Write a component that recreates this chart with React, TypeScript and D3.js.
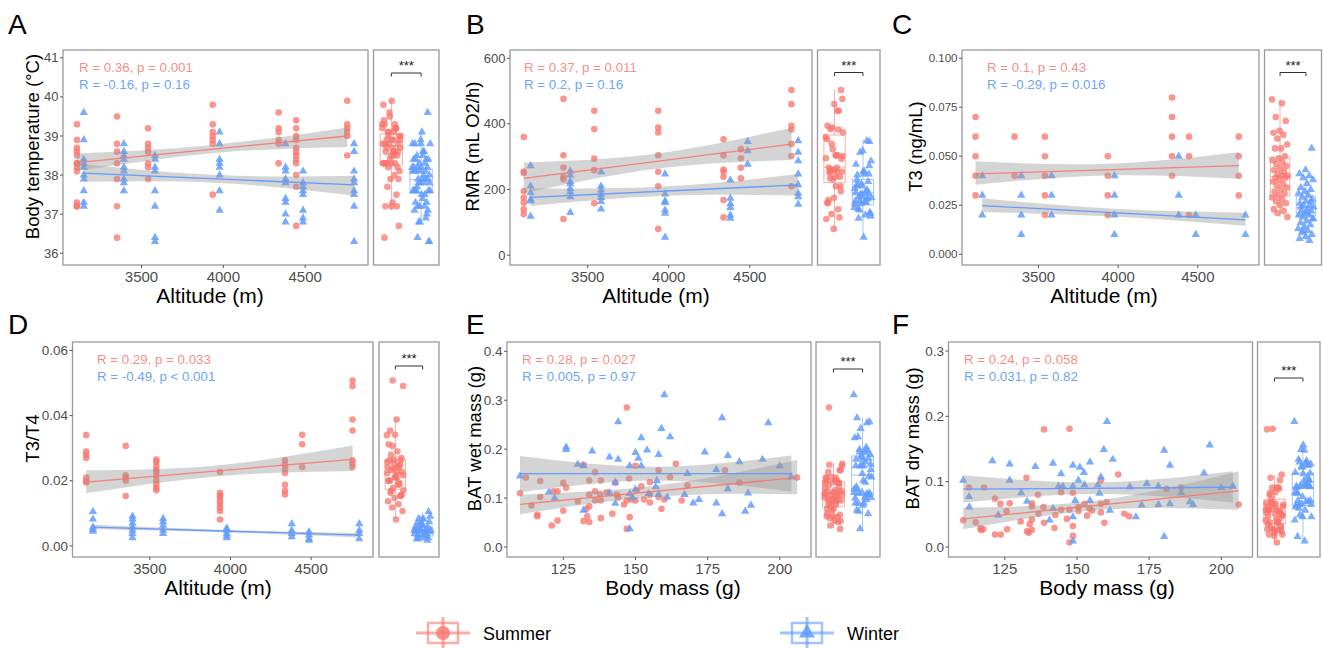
import React from 'react'
import * as d3 from 'd3'

const SUMMER = '#F8766D'
const WINTER = '#619CFF'
const FONT = '"Liberation Sans", Arial, Helvetica, sans-serif'

// sampling sites (m); winter points are dodged a little to the right
const altSummer = [3105, 3350, 3540, 3935, 4338, 4445, 4757]
const altWinter = [3147, 3392, 3582, 3977, 4380, 4487, 4799]

// A: body temperature (°C) per site
const tempSummer = [
  [39.3, 38.9, 38.7, 38.6, 38.5, 38.3, 38.3, 38.2, 38.1, 37.3, 37.2, 37.2],
  [39.5, 38.8, 38.6, 38.3, 37.9, 37.2, 36.4],
  [39.2, 38.8, 38.7, 38.6, 38.3, 38.2, 37.9],
  [39.8, 39.3, 39.1, 39.0, 38.9, 38.8, 37.5],
  [39.6, 39.2, 39.1, 38.9, 38.8, 38.3],
  [39.4, 39.2, 39.0, 38.9, 38.7, 38.6, 38.5, 38.4, 38.3, 38.0, 37.7, 36.7],
  [39.9, 39.3, 39.2, 39.1, 39.0, 38.5],
]
const tempWinter = [
  [39.6, 38.9, 38.4, 38.3, 38.2, 38.0, 37.9, 37.6, 37.3, 37.2],
  [38.8, 38.6, 38.5, 38.4, 38.2, 38.1, 37.9, 37.8, 37.6],
  [38.5, 38.4, 38.2, 38.1, 37.6, 37.2, 36.4, 36.3],
  [39.1, 38.8, 38.4, 38.3, 38.2, 38.0, 37.6, 37.1],
  [38.8, 38.2, 38.1, 37.9, 37.8, 37.4, 37.3, 37.0, 36.8],
  [38.1, 37.8, 37.7, 37.6, 37.5, 37.1, 36.9, 36.8],
  [38.8, 38.6, 38.1, 37.9, 37.8, 37.6, 37.5, 37.2, 36.3],
]
const tempFitSummer = [38.32, 39.0]
const tempBandSummer = [[38.1, 38.56, 38.72], [38.55, 38.77, 39.22]]
const tempFitWinter = [38.05, 37.75]
const tempBandWinter = [[37.83, 37.8, 37.48], [38.28, 38.0, 37.98]]
const tempBoxSummer = [37.1, 38.26, 38.75, 39.05, 39.9]
const tempBoxWinter = [36.8, 37.55, 37.88, 38.15, 39.1]

// B: RMR (mL O2/h)
const rmrSummer = [
  [360, 255, 250, 195, 175, 160, 140, 125],
  [476, 304, 267, 239, 231, 110],
  [440, 384, 294, 259, 158],
  [440, 389, 374, 304, 254, 210, 80],
  [353, 304, 261, 254, 239, 168, 115],
  [323, 295, 266, 234],
  [503, 460, 394, 383, 339, 302, 210],
]
const rmrWinter = [
  [272, 210, 190, 170, 165, 118],
  [256, 244, 224, 217, 203, 193, 178, 130],
  [254, 210, 198, 185, 175, 163, 140],
  [247, 186, 165, 160, 137, 127, 54],
  [229, 173, 156, 145, 122, 112],
  [346, 318, 277],
  [348, 313, 287, 247, 214, 188, 178, 155],
]
const rmrFitSummer = [234, 338]
const rmrBandSummer = [[188, 264, 290], [282, 310, 388]]
const rmrFitWinter = [176, 214]
const rmrBandWinter = [[150, 181, 181], [204, 209, 247]]
const rmrBoxSummer = [79, 221, 268, 366, 503]
const rmrBoxWinter = [52, 153, 190, 231, 353]

// C: T3 (ng/mL)
const t3Summer = [
  [0.07, 0.06, 0.05, 0.04, 0.03],
  [0.06, 0.04],
  [0.06, 0.05, 0.04, 0.03, 0.02],
  [0.05, 0.04, 0.03, 0.02],
  [0.08, 0.07, 0.06, 0.05, 0.04],
  [0.06, 0.05, 0.02],
  [0.06, 0.05, 0.04, 0.03],
]
const t3Winter = [
  [0.04, 0.03, 0.02],
  [0.04, 0.03, 0.02, 0.01],
  [0.04, 0.03, 0.02],
  [0.04, 0.03, 0.02, 0.01],
  [0.05, 0.03, 0.02],
  [0.02, 0.01],
  [0.02, 0.01],
]
const t3FitSummer = [0.041, 0.0452]
const t3BandSummer = [[0.0355, 0.0402, 0.0385], [0.0475, 0.0462, 0.052]]
const t3FitWinter = [0.0248, 0.0175]
const t3BandWinter = [[0.0215, 0.0192, 0.0145], [0.0285, 0.0232, 0.0212]]
const t3BoxSummer = [0.019, 0.0297, 0.0396, 0.0495, 0.079]
const t3BoxWinter = [0.007, 0.0196, 0.0238, 0.0297, 0.040]
const t3PointsSummer = [0.079, 0.077, 0.070, 0.068, 0.063, 0.062, 0.061, 0.059, 0.056, 0.054, 0.054, 0.050, 0.049,
  0.048, 0.047, 0.046, 0.045, 0.044, 0.043, 0.042, 0.041, 0.040, 0.040, 0.039, 0.039, 0.038, 0.037, 0.036, 0.035,
  0.034, 0.033, 0.032, 0.031, 0.030, 0.029, 0.028, 0.027, 0.026, 0.025, 0.023, 0.022, 0.021, 0.019]
const t3PointsWinter = [0.054, 0.043, 0.041, 0.040, 0.039, 0.038, 0.036, 0.034, 0.033, 0.032, 0.031, 0.030, 0.029,
  0.028, 0.027, 0.026, 0.025, 0.025, 0.024, 0.023, 0.022, 0.022, 0.021, 0.020, 0.020, 0.019, 0.018, 0.017, 0.016,
  0.015, 0.014, 0.013, 0.012, 0.011, 0.010, 0.009, 0.008, 0.007, 0.012, 0.018, 0.021, 0.024, 0.027]

// D: T3/T4
const ratioSummer = [
  [0.034, 0.029, 0.028, 0.027, 0.021, 0.020, 0.0195],
  [0.0307, 0.0217, 0.0209, 0.020, 0.0153],
  [0.0265, 0.0258, 0.0245, 0.0234, 0.0227, 0.0215, 0.0201, 0.0189, 0.0178, 0.0171],
  [0.0227, 0.0163, 0.0155, 0.0147, 0.0137, 0.0128, 0.0118, 0.0107, 0.0081],
  [0.0263, 0.025, 0.0237, 0.0224, 0.0188, 0.0169, 0.0158],
  [0.0341, 0.0312, 0.0242],
  [0.0508, 0.0491, 0.0388, 0.0354, 0.0263, 0.0252, 0.0242],
]
const ratioWinter = [
  [0.0105, 0.0082, 0.0058, 0.005, 0.0045],
  [0.0091, 0.0082, 0.007, 0.0058, 0.0048, 0.0038, 0.0025],
  [0.0084, 0.0074, 0.0063, 0.0048, 0.0038],
  [0.0055, 0.0048, 0.0038, 0.0031, 0.0025],
  [0.0068, 0.0048, 0.0038, 0.0028],
  [0.0043, 0.0033, 0.0022, 0.0017],
  [0.0068, 0.0048, 0.0038, 0.0022],
]
const ratioFitSummer = [0.0196, 0.0266]
const ratioBandSummer = [[0.0162, 0.0214, 0.023], [0.0232, 0.0248, 0.0308]]
const ratioFitWinter = [0.0058, 0.0033]
const ratioBandWinter = [[0.0051, 0.0042, 0.0026], [0.0065, 0.0049, 0.0040]]
const ratioBoxSummer = [0.0082, 0.0174, 0.0225, 0.0264, 0.0389]
const ratioBoxWinter = [0.0017, 0.0030, 0.0045, 0.0058, 0.0104]

// E: BAT wet mass (g) against body mass (g)
const wetMassSummer = [110, 112, 114, 116, 116, 117, 117, 121, 121.5, 123, 123, 125, 125, 126, 130, 132, 132, 133, 133.3,
  134, 134, 134, 134, 136, 136, 136, 137.7, 138, 138, 138, 140, 142, 143, 143.5, 144, 146, 147, 147, 147, 147.8, 148,
  148.5, 150, 150.5, 150, 152, 153, 155, 155, 155, 158, 158, 159, 160, 162, 164, 166, 168, 181, 186, 206]
const wetSummer = [0.110, 0.142, 0.085, 0.066, 0.063, 0.135, 0.102, 0.044, 0.114, 0.054, 0.114, 0.131, 0.074, 0.121,
  0.093, 0.168, 0.053, 0.078, 0.063, 0.051, 0.083, 0.107, 0.136, 0.153, 0.114, 0.095, 0.107, 0.136, 0.059, 0.095,
  0.112, 0.068, 0.131, 0.107, 0.101, 0.087, 0.285, 0.037, 0.095, 0.140, 0.061, 0.097, 0.166, 0.116, 0.095, 0.124,
  0.097, 0.133, 0.107, 0.091, 0.157, 0.102, 0.078, 0.097, 0.143, 0.170, 0.095, 0.126, 0.157, 0.132, 0.142]
const wetMassWinter = [110, 120, 122, 126, 126, 130, 132, 132, 135, 141, 141, 143, 143, 144, 144, 148, 148, 148, 149,
  150, 150, 151, 152, 152, 154, 154.5, 158, 157.4, 157, 158, 159, 160, 161, 162, 167, 168, 170, 172, 174, 178, 178,
  180, 180, 182, 182, 186, 188, 189, 190, 194, 196, 200, 204]
const wetWinter = [0.145, 0.112, 0.100, 0.204, 0.199, 0.169, 0.166, 0.075, 0.196, 0.184, 0.111, 0.132, 0.089, 0.256,
  0.179, 0.166, 0.109, 0.037, 0.101, 0.193, 0.118, 0.181, 0.166, 0.223, 0.198, 0.109, 0.189, 0.136, 0.123, 0.107,
  0.242, 0.311, 0.102, 0.225, 0.107, 0.150, 0.090, 0.097, 0.194, 0.158, 0.090, 0.264, 0.068, 0.187, 0.119, 0.174,
  0.073, 0.110, 0.085, 0.179, 0.254, 0.166, 0.143]
const wetFitSummer = [0.087, 0.142]
const wetBandSummer = [[0.067, 0.103, 0.108], [0.107, 0.126, 0.178]]
const wetFitWinter = [0.150, 0.150]
const wetBandWinter = [[0.112, 0.136, 0.113], [0.186, 0.164, 0.187]]
const wetBoxSummer = [0.038, 0.0824, 0.1097, 0.1335, 0.172]
const wetBoxWinter = [0.036, 0.108, 0.147, 0.186, 0.265]

// F: BAT dry mass (g) against body mass (g)
const dryMassSummer = [110.6, 112.6, 114.9, 116.6, 116.7, 117.5, 117.8, 121.6, 121.6, 123.5, 123.6, 125.6, 125.8, 126.7,
  130.5, 132.5, 132.7, 133.3, 133.6, 134.4, 134.4, 134.4, 134.4, 136.5, 136.7, 138.4, 138.6, 138.6, 142.2, 142.5,
  144.5, 144.5, 146.5, 147.4, 147.4, 147.4, 148.6, 148.6, 148.6, 150.5, 150.5, 152.6, 153.5, 154.3, 155.2, 158.3,
  158.3, 158.3, 159.5, 160.3, 164.3, 166.4, 168.1, 181, 186.1, 206]
const drySummer = [0.041, 0.091, 0.038, 0.029, 0.026, 0.027, 0.091, 0.074, 0.019, 0.066, 0.019, 0.055, 0.027, 0.067,
  0.039, 0.106, 0.024, 0.022, 0.035, 0.026, 0.067, 0.062, 0.042, 0.080, 0.051, 0.061, 0.180, 0.037, 0.029, 0.049,
  0.084, 0.057, 0.043, 0.181, 0.057, 0.007, 0.083, 0.032, 0.017, 0.061, 0.055, 0.066, 0.048, 0.059, 0.056, 0.102,
  0.066, 0.053, 0.037, 0.069, 0.111, 0.051, 0.047, 0.089, 0.091, 0.065]
const dryMassWinter = [110.6, 112.6, 112.7, 120.7, 122.7, 126.7, 126.7, 130.7, 132.7, 135.6, 140.5, 141.7, 141.7, 143.6,
  144.5, 145.1, 148.6, 148.6, 148.6, 148.6, 149.4, 150.5, 151, 152.4, 152.6, 154.5, 154.5, 157.2, 157.8, 158.3, 159.3,
  160.4, 161.4, 162.4, 168.3, 170.4, 172.4, 174.2, 178.2, 178.2, 180.2, 180.2, 182.2, 182.2, 186.1, 189.1, 190.2, 194,
  196, 200, 204]
const dryWinter = [0.102, 0.077, 0.061, 0.132, 0.049, 0.127, 0.102, 0.083, 0.070, 0.123, 0.041, 0.128, 0.059, 0.093,
  0.112, 0.093, 0.125, 0.093, 0.046, 0.009, 0.071, 0.102, 0.122, 0.114, 0.095, 0.130, 0.071, 0.095, 0.082, 0.107,
  0.149, 0.192, 0.056, 0.134, 0.092, 0.046, 0.064, 0.097, 0.093, 0.065, 0.148, 0.016, 0.125, 0.066, 0.083, 0.069,
  0.065, 0.113, 0.156, 0.091, 0.093]
const dryFitSummer = [0.043, 0.086]
const dryBandSummer = [[0.027, 0.057, 0.057], [0.060, 0.072, 0.116]]
const dryFitWinter = [0.0885, 0.0915]
const dryBandWinter = [[0.068, 0.081, 0.068], [0.110, 0.099, 0.116]]
const dryBoxSummer = [0.007, 0.036, 0.0546, 0.073, 0.110]
const dryBoxWinter = [0.007, 0.064, 0.091, 0.113, 0.156]

const altTicks = [3500, 4000, 4500]
const massTicks = [125, 150, 175, 200]

const bySite = (sites: number[], vals: number[][]) =>
  sites.flatMap((a, i) => vals[i].map(v => [a, v] as [number, number]))
const paired = (xs: number[], ys: number[]) => xs.map((v, i) => [v, ys[i]] as [number, number])

const panels = [
  {
    letter: 'A', lx: 8, ly: 34, plot: [63, 368], boxX: [373.5, 439], top: 50, bottom: 265,
    xDomain: [3020, 4884], yDomain: [35.7, 41.2], xTicks: altTicks, yTicks: [36, 37, 38, 39, 40, 41], yFormat: 'd', yFont: 13,
    xTitle: 'Altitude (m)', yTitle: 'Body temperature (°C)', xTitleX: 210, yTitleX: 39,
    rX: 79, rSummer: 'R = 0.36, p = 0.001', rWinter: 'R = -0.16, p = 0.16',
    summer: bySite(altSummer, tempSummer), winter: bySite(altWinter, tempWinter),
    fitS: tempFitSummer, bandS: tempBandSummer, fitW: tempFitWinter, bandW: tempBandWinter,
    boxS: tempBoxSummer, boxW: tempBoxWinter, ptsS: tempSummer.flat(), ptsW: tempWinter.flat(), bracketY: 73,
  },
  {
    letter: 'B', lx: 466, ly: 34, plot: [510, 812], boxX: [817.5, 880], top: 50, bottom: 265,
    xDomain: [3020, 4884], yDomain: [-30, 625], xTicks: altTicks, yTicks: [0, 200, 400, 600], yFormat: 'd', yFont: 13,
    xTitle: 'Altitude (m)', yTitle: 'RMR (mL O2/h)', xTitleX: 656, yTitleX: 479,
    rX: 524, rSummer: 'R = 0.37, p = 0.011', rWinter: 'R = 0.2, p = 0.16',
    summer: bySite(altSummer, rmrSummer), winter: bySite(altWinter, rmrWinter),
    fitS: rmrFitSummer, bandS: rmrBandSummer, fitW: rmrFitWinter, bandW: rmrBandWinter,
    boxS: rmrBoxSummer, boxW: rmrBoxWinter, ptsS: rmrSummer.flat(), ptsW: rmrWinter.flat(), bracketY: 72.5,
  },
  {
    letter: 'C', lx: 892, ly: 34, plot: [962, 1259], boxX: [1264.5, 1321.5], top: 50, bottom: 265,
    xDomain: [3020, 4884], yDomain: [-0.0055, 0.1042], xTicks: altTicks, yTicks: [0, 0.025, 0.05, 0.075, 0.1], yFormat: '.3f', yFont: 11.5,
    xTitle: 'Altitude (m)', yTitle: 'T3 (ng/mL)', xTitleX: 1104, yTitleX: 922,
    rX: 987, rSummer: 'R = 0.1, p = 0.43', rWinter: 'R = -0.29, p = 0.016',
    summer: bySite(altSummer, t3Summer), winter: bySite(altWinter, t3Winter),
    fitS: t3FitSummer, bandS: t3BandSummer, fitW: t3FitWinter, bandW: t3BandWinter,
    boxS: t3BoxSummer, boxW: t3BoxWinter, ptsS: t3PointsSummer, ptsW: t3PointsWinter, bracketY: 72.5,
  },
  {
    letter: 'D', lx: 8, ly: 334, plot: [72.5, 373], boxX: [379, 439], top: 342, bottom: 557,
    xDomain: [3020, 4884], yDomain: [-0.0034, 0.0626], xTicks: altTicks, yTicks: [0, 0.02, 0.04, 0.06], yFormat: '.2f', yFont: 13.5,
    xTitle: 'Altitude (m)', yTitle: 'T3/T4', xTitleX: 218, yTitleX: 39,
    rX: 97, rSummer: 'R = 0.29, p = 0.033', rWinter: 'R = -0.49, p < 0.001',
    summer: bySite(altSummer, ratioSummer), winter: bySite(altWinter, ratioWinter),
    fitS: ratioFitSummer, bandS: ratioBandSummer, fitW: ratioFitWinter, bandW: ratioBandWinter,
    boxS: ratioBoxSummer, boxW: ratioBoxWinter, ptsS: ratioSummer.flat(), ptsW: ratioWinter.flat(), bracketY: 366,
  },
  {
    letter: 'E', lx: 466, ly: 334, plot: [507, 811], boxX: [816, 880], top: 342, bottom: 557,
    xDomain: [105.5, 210.8], yDomain: [-0.0204, 0.419], xTicks: massTicks, yTicks: [0, 0.1, 0.2, 0.3, 0.4], yFormat: '.1f', yFont: 13.5,
    xTitle: 'Body mass (g)', yTitle: 'BAT wet mass (g)', xTitleX: 673, yTitleX: 481,
    rX: 522, rSummer: 'R = 0.28, p = 0.027', rWinter: 'R = 0.005, p = 0.97',
    summer: paired(wetMassSummer, wetSummer), winter: paired(wetMassWinter, wetWinter),
    fitS: wetFitSummer, bandS: wetBandSummer, fitW: wetFitWinter, bandW: wetBandWinter,
    boxS: wetBoxSummer, boxW: wetBoxWinter, ptsS: wetSummer, ptsW: wetWinter, bracketY: 369,
  },
  {
    letter: 'F', lx: 892, ly: 334, plot: [948.5, 1252.5], boxX: [1257.5, 1320], top: 342, bottom: 557,
    xDomain: [105.5, 210.8], yDomain: [-0.0153, 0.3138], xTicks: massTicks, yTicks: [0, 0.1, 0.2, 0.3], yFormat: '.1f', yFont: 13.5,
    xTitle: 'Body mass (g)', yTitle: 'BAT dry mass (g)', xTitleX: 1107, yTitleX: 919,
    rX: 964, rSummer: 'R = 0.24, p = 0.058', rWinter: 'R = 0.031, p = 0.82',
    summer: paired(dryMassSummer, drySummer), winter: paired(dryMassWinter, dryWinter),
    fitS: dryFitSummer, bandS: dryBandSummer, fitW: dryFitWinter, bandW: dryBandWinter,
    boxS: dryBoxSummer, boxW: dryBoxWinter, ptsS: drySummer, ptsW: dryWinter, bracketY: 378,
  },
]

const triangle = d3.symbol(d3.symbolTriangle, 30)()

const Panel = ({ p }: { p: any }) => {
  const x = d3.scaleLinear().domain(p.xDomain).range(p.plot)
  const y = d3.scaleLinear().domain(p.yDomain).range([p.bottom, p.top])
  const bx = d3.scalePoint<string>().domain(['Summer', 'Winter']).range(p.boxX).padding(0.6)
  const step = bx.step()
  const fmt = d3.format(p.yFormat)

  const ribbon = (pts: [number, number][], band: number[][]) => {
    const [x0, x1] = d3.extent(pts, d => d[0]) as [number, number]
    const xs = [x0, (x0 + x1) / 2, x1]
    return d3.area<number>()
      .x(d => x(xs[d]))
      .y0(d => y(band[0][d]))
      .y1(d => y(band[1][d]))
      .curve(d3.curveNatural)([0, 1, 2]) || ''
  }
  const fitLine = (pts: [number, number][], fit: number[]) => {
    const [x0, x1] = d3.extent(pts, d => d[0]) as [number, number]
    return d3.line<number>().x((d, i) => x(i ? x1 : x0)).y(d => y(d))(fit) || ''
  }

  const boxplot = (key: string, s: number[], color: string) => {
    const cx = bx(key) as number
    const w = step * 0.75
    return (
      <g stroke={color} strokeOpacity={0.6} fill="none" strokeWidth={1}>
        <line x1={cx} x2={cx} y1={y(s[0])} y2={y(s[1])} />
        <line x1={cx} x2={cx} y1={y(s[3])} y2={y(s[4])} />
        <rect x={cx - w / 2} width={w} y={y(s[3])} height={y(s[1]) - y(s[3])} />
        <line x1={cx - w / 2} x2={cx + w / 2} y1={y(s[2])} y2={y(s[2])} />
      </g>
    )
  }
  const jitter = (i: number) => ((i * 0.618034) % 1 - 0.5) * step * 0.62

  const sx = bx('Summer') as number
  const wx = bx('Winter') as number

  return (
    <g>
      <text x={p.lx} y={p.ly} fontSize={28} fill="#000">{p.letter}</text>

      {/* scatter points */}
      {p.summer.map((d: number[], i: number) => (
        <circle key={'s' + i} cx={x(d[0])} cy={y(d[1])} r={3.3} fill={SUMMER} fillOpacity={0.78} />
      ))}
      {p.winter.map((d: number[], i: number) => (
        <path key={'w' + i} d={triangle || ''} transform={`translate(${x(d[0])},${y(d[1])})`} fill={WINTER} fillOpacity={0.85} />
      ))}

      {/* confidence ribbons and fits */}
      <path d={ribbon(p.summer, p.bandS)} fill="#999" fillOpacity={0.42} />
      <path d={ribbon(p.winter, p.bandW)} fill="#999" fillOpacity={0.42} />
      <path d={fitLine(p.summer, p.fitS)} stroke={SUMMER} strokeOpacity={0.9} strokeWidth={1.3} fill="none" />
      <path d={fitLine(p.winter, p.fitW)} stroke={WINTER} strokeWidth={1.3} fill="none" />

      <rect x={p.plot[0]} y={p.top} width={p.plot[1] - p.plot[0]} height={p.bottom - p.top} fill="none" stroke="#999" strokeWidth={1.3} />

      {/* axes */}
      {p.yTicks.map((t: number) => (
        <g key={'yt' + t}>
          <line x1={p.plot[0] - 3} x2={p.plot[0]} y1={y(t)} y2={y(t)} stroke="#555" />
          <text x={p.plot[0] - 4.5} y={y(t)} dy="0.35em" textAnchor="end" fontSize={p.yFont} fill="#4d4d4d">{fmt(t)}</text>
        </g>
      ))}
      {p.xTicks.map((t: number) => (
        <g key={'xt' + t}>
          <line x1={x(t)} x2={x(t)} y1={p.bottom} y2={p.bottom + 3} stroke="#555" />
          <text x={x(t)} y={p.bottom + 17} textAnchor="middle" fontSize={15} fill="#4d4d4d">{t}</text>
        </g>
      ))}
      <text x={p.xTitleX} y={p.bottom + 38} textAnchor="middle" fontSize={21} fill="#000">{p.xTitle}</text>
      <text transform={`translate(${p.yTitleX},${(p.top + p.bottom) / 2 - 11}) rotate(-90)`} textAnchor="middle" fontSize={18.5} fill="#000">{p.yTitle}</text>

      <text x={p.rX} y={p.top + 22} fontSize={13.3} fill={SUMMER} fillOpacity={0.85}>{p.rSummer}</text>
      <text x={p.rX} y={p.top + 38.5} fontSize={13.3} fill={WINTER} fillOpacity={0.95}>{p.rWinter}</text>

      {/* seasonal comparison */}
      <rect x={p.boxX[0]} y={p.top} width={p.boxX[1] - p.boxX[0]} height={p.bottom - p.top} fill="none" stroke="#999" strokeWidth={1.3} />
      {boxplot('Summer', p.boxS, SUMMER)}
      {boxplot('Winter', p.boxW, WINTER)}
      {p.ptsS.map((v: number, i: number) => (
        <circle key={'bs' + i} cx={sx + jitter(i)} cy={y(v)} r={3.3} fill={SUMMER} fillOpacity={0.75} />
      ))}
      {p.ptsW.map((v: number, i: number) => (
        <path key={'bw' + i} d={triangle || ''} transform={`translate(${wx + jitter(i + 3)},${y(v)})`} fill={WINTER} fillOpacity={0.82} />
      ))}
      <path d={`M${sx},${p.bracketY + 3.5}V${p.bracketY}H${wx}V${p.bracketY + 3.5}`} fill="none" stroke="#333" strokeWidth={1} />
      <text x={(sx + wx) / 2} y={p.bracketY - 3} textAnchor="middle" fontSize={13} fill="#222">***</text>
    </g>
  )
}

const Legend = () => {
  const items = [
    { label: 'Summer', cx: 443, color: SUMMER, shape: 'circle' },
    { label: 'Winter', cx: 807, color: WINTER, shape: 'triangle' },
  ]
  const cy = 633
  return (
    <g>
      {items.map(it => (
        <g key={it.label}>
          <g stroke={it.color} strokeOpacity={0.6} strokeWidth={3} fill="none">
            <line x1={it.cx - 27} x2={it.cx + 27} y1={cy} y2={cy} />
            <line x1={it.cx} x2={it.cx} y1={cy - 16} y2={cy + 15} />
            <rect x={it.cx - 15} y={cy - 10} width={30} height={20} strokeWidth={2.5} />
          </g>
          {it.shape === 'circle'
            ? <circle cx={it.cx} cy={cy} r={7} fill={it.color} fillOpacity={0.8} />
            : <path d={d3.symbol(d3.symbolTriangle, 110)() || ''} transform={`translate(${it.cx},${cy})`} fill={it.color} fillOpacity={0.85} />}
          <text x={it.cx + 40} y={cy + 7} fontSize={18} fill="#000">{it.label}</text>
        </g>
      ))}
    </g>
  )
}

export default function App() {
  return (
    <svg width={1323} height={648} fontFamily={FONT} style={{ position: 'absolute', left: 0, top: 0, background: '#fff' }}>
      {panels.map(p => <Panel key={p.letter} p={p} />)}
      <Legend />
    </svg>
  )
}
